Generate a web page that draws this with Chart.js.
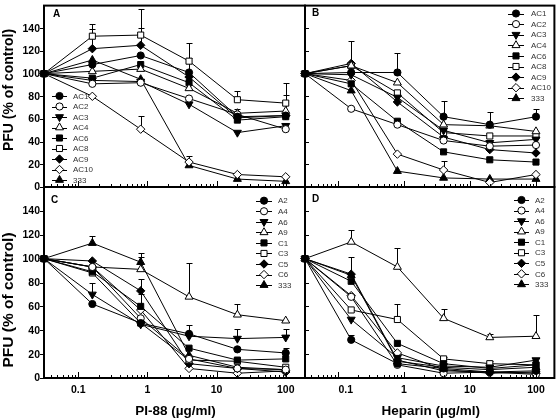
<!DOCTYPE html>
<html><head><meta charset="utf-8">
<script src="https://cdn.jsdelivr.net/npm/chart.js@4/dist/chart.umd.min.js"></script>
<style>
html,body{margin:0;padding:0;background:#fff;}
#wrap{position:relative;width:560px;height:420px;background:#fff;}
canvas{position:absolute;left:0;top:0;}
</style></head><body><div id="wrap">
<canvas id="cA" width="560" height="420"></canvas>
<canvas id="cB" width="560" height="420"></canvas>
<canvas id="cC" width="560" height="420"></canvas>
<canvas id="cD" width="560" height="420"></canvas>
</div>
<script>
// ---- data ----
const concentrations = [0.032, 0.16, 0.8, 4, 20, 100]; // first = control
const xTickValues = [0.1, 1, 10, 100];
const xTickLabels = ['0.1', '1', '10', '100'];
const yTickValues = [0, 20, 40, 60, 80, 100, 120, 140];

const namesAB = ['AC1', 'AC2', 'AC3', 'AC4', 'AC6', 'AC8', 'AC9', 'AC10', '333'];
const namesCD = ['A2', 'A4', 'A6', 'A9', 'C1', 'C3', 'C5', 'C6', '333'];

// Panel A (PI-88), rows follow namesAB
const pfuA = [
  [100, 108, 116, 101, 62, 63],
  [100, 91, 92, 78, 64, 51],
  [100, 94, 93, 73, 48, 54],
  [100, 102, 104, 87, 65, 67],
  [100, 96, 108, 92, 59, 62],
  [100, 133, 134, 111, 77, 74],
  [100, 122, 125, 97, 61, 63],
  [100, 80, 51, 22, 11, 9],
  [100, 112, 95, 19, 7, 5]
];
const errA = [
  [null, null, null, 13, 7, null],
  [null, null, null, null, null, null],
  [null, null, null, null, null, null],
  [null, null, null, null, null, null],
  [null, null, null, null, null, 19],
  [null, 11, 23, 16, 8, 18],
  [null, 17, 15, null, null, null],
  [null, null, 12, 5, null, null],
  [null, null, null, null, null, null]
];
// Panel B (heparin), rows follow namesAB
const pfuB = [
  [100, 101, 101, 62, 55, 62],
  [100, 69, 55, 41, 36, 37],
  [100, 99, 79, 50, 39, 42],
  [100, 107, 92, 55, 54, 49],
  [100, 91, 58, 31, 24, 22],
  [100, 107, 83, 48, 45, 45],
  [100, 109, 75, 44, 33, 30],
  [100, 94, 29, 15, 4, 11],
  [100, 85, 14, 8, 7, 7]
];
const errB = [
  [null, 7, 17, 14, null, 7],
  [null, null, null, null, null, null],
  [null, null, null, null, null, null],
  [null, null, null, null, 12, null],
  [null, null, null, null, null, null],
  [null, 22, null, null, null, null],
  [null, null, null, null, null, null],
  [null, null, null, 8, null, null],
  [null, null, null, null, null, null]
];
// Panel C (PI-88), rows follow namesCD
const pfuC = [
  [100, 62, 46, 37, 24, 21],
  [100, 93, 50, 16, 8, 7],
  [100, 70, 45, 35, 33, 34],
  [100, 93, 91, 68, 53, 48],
  [100, 89, 60, 25, 15, 16],
  [100, 88, 46, 15, 14, 9],
  [100, 98, 73, 12, 8, 5],
  [100, 93, 57, 8, 4, 6],
  [100, 113, 97, 19, 9, 7]
];
const errC = [
  [null, null, null, 7, null, 4],
  [null, null, null, null, null, null],
  [null, 10, null, null, 8, 7],
  [null, null, 10, 28, 9, null],
  [null, null, 10, null, null, null],
  [null, null, null, null, null, null],
  [null, null, 10, null, null, null],
  [null, null, null, null, null, null],
  [null, 6, 8, null, null, null]
];
// Panel D (heparin), rows follow namesCD
const pfuD = [
  [100, 32, 12, 8, 5, 6],
  [100, 68, 11, 4, 5, 3],
  [100, 49, 17, 10, 9, 15],
  [100, 114, 93, 50, 34, 35],
  [100, 81, 29, 12, 8, 11],
  [100, 57, 49, 16, 12, 11],
  [100, 87, 15, 6, 5, 4],
  [100, 69, 21, 7, 4, 5],
  [100, 86, 14, 9, 7, 9]
];
const errD = [
  [null, 4, null, null, null, null],
  [null, null, null, null, null, null],
  [null, null, null, null, null, null],
  [null, 10, 16, 8, 3, 18],
  [null, null, null, null, null, null],
  [null, null, 13, 2, 2, null],
  [null, 14, null, null, null, null],
  [null, null, null, null, null, null],
  [null, null, null, null, null, null]
];

// ---- styling ----
const FONT = "'Liberation Sans', Arial, Helvetica, sans-serif";
const markers = [
  {style: 'circle', rot: 0, r: 3.6, filled: true},
  {style: 'circle', rot: 0, r: 3.6, filled: false},
  {style: 'triangle', rot: 180, r: 4.6, filled: true},
  {style: 'triangle', rot: 0, r: 4.6, filled: false},
  {style: 'rect', rot: 0, r: 4.3, filled: true},
  {style: 'rect', rot: 0, r: 4.3, filled: false},
  {style: 'rectRot', rot: 0, r: 4.2, filled: true},
  {style: 'rectRot', rot: 0, r: 4.2, filled: false},
  {style: 'triangle', rot: 0, r: 4.6, filled: true}
];

function drawMarker(ctx, m, x, y) {
  const r = m.r;
  ctx.beginPath();
  if (m.style === 'circle') {
    ctx.arc(x, y, r, 0, 2 * Math.PI);
  } else if (m.style === 'triangle') {
    let rad = m.rot * Math.PI / 180;
    for (let k = 0; k < 3; k++) {
      const px = x + Math.sin(rad) * r, py = y - Math.cos(rad) * r;
      if (k) ctx.lineTo(px, py); else ctx.moveTo(px, py);
      rad += 2 * Math.PI / 3;
    }
  } else if (m.style === 'rect') {
    const s = Math.SQRT1_2 * r;
    ctx.rect(x - s, y - s, 2 * s, 2 * s);
  } else {
    ctx.moveTo(x - r, y); ctx.lineTo(x, y - r); ctx.lineTo(x + r, y); ctx.lineTo(x, y + r);
  }
  ctx.closePath();
  ctx.fillStyle = m.filled ? '#000' : '#fff';
  ctx.fill();
  ctx.lineWidth = 1; ctx.strokeStyle = '#000';
  ctx.stroke();
}

function decor(cfg) {
  return {
    id: 'decor',
    beforeDatasetsDraw(chart) {
      const ctx = chart.ctx, xs = chart.scales.x, ys = chart.scales.y;
      ctx.save();
      ctx.strokeStyle = '#000'; ctx.lineWidth = 1;
      chart.data.datasets.forEach(ds => {
        ds.data.forEach((p, j) => {
          const e = ds.errors[j];
          if (e == null) return;
          const x = Math.round(xs.getPixelForValue(p.x)) + 0.5;
          const y0 = ys.getPixelForValue(p.y);
          const y1 = Math.round(ys.getPixelForValue(p.y + e)) + 0.5;
          ctx.beginPath();
          ctx.moveTo(x, y0); ctx.lineTo(x, y1);
          ctx.moveTo(x - 3, y1); ctx.lineTo(x + 3, y1);
          ctx.stroke();
        });
      });
      ctx.restore();
    },
    afterDraw(chart) {
      const ctx = chart.ctx, xs = chart.scales.x, ys = chart.scales.y;
      const a = chart.chartArea;
      ctx.save();
      // frame
      ctx.strokeStyle = '#000'; ctx.lineWidth = 2;
      ctx.strokeRect(a.left, a.top, a.right - a.left, a.bottom - a.top);
      ctx.lineWidth = 1;
      // y ticks
      ctx.beginPath();
      yTickValues.forEach(v => {
        const y = Math.round(ys.getPixelForValue(v)) + 0.5;
        if (cfg.yLabels) { ctx.moveTo(a.left - 4, y); ctx.lineTo(a.left, y); }
        else { ctx.moveTo(a.left, y); ctx.lineTo(a.left + 4, y); }
      });
      // x log ticks (inward)
      for (let n = -2; n <= 2; n++) {
        for (let k = 1; k <= 9; k++) {
          const v = k * Math.pow(10, n);
          if (v < xs.min || v > xs.max) continue;
          const x = Math.round(xs.getPixelForValue(v)) + 0.5;
          const len = k === 1 ? 6 : 3;
          ctx.moveTo(x, a.bottom); ctx.lineTo(x, a.bottom - len);
        }
      }
      ctx.stroke();
      ctx.fillStyle = '#000';
      // y tick labels
      if (cfg.yLabels) {
        ctx.font = 'bold 10.5px ' + FONT;
        ctx.textAlign = 'right'; ctx.textBaseline = 'middle';
        yTickValues.forEach(v => ctx.fillText(String(v), a.left - 4, ys.getPixelForValue(v) + 0.5));
      }
      // x tick labels
      if (cfg.xLabels) {
        ctx.font = 'bold 10.5px ' + FONT;
        ctx.textAlign = 'center'; ctx.textBaseline = 'middle';
        xTickValues.forEach((v, i) => ctx.fillText(xTickLabels[i], xs.getPixelForValue(v) + cfg.xLabelShift[i], 390));
      }
      // axis titles
      if (cfg.xTitle) {
        ctx.font = 'bold 13.5px ' + FONT;
        ctx.textAlign = 'center'; ctx.textBaseline = 'middle';
        ctx.fillText(cfg.xTitle, (a.left + a.right) / 2 + 1, 411);
      }
      if (cfg.yTitle) {
        ctx.save();
        ctx.translate(9, cfg.yTitleY);
        ctx.rotate(-Math.PI / 2);
        ctx.font = 'bold ' + cfg.yTitleSize + 'px ' + FONT;
        ctx.textAlign = 'center'; ctx.textBaseline = 'middle';
        ctx.fillText(cfg.yTitle, 0, 0);
        ctx.restore();
      }
      // panel letter
      ctx.font = 'bold 10px ' + FONT;
      ctx.textAlign = 'left'; ctx.textBaseline = 'alphabetic';
      ctx.fillText(cfg.letter, cfg.letterPos[0], cfg.letterPos[1]);
      // legend
      const L = cfg.legend;
      chart.data.datasets.forEach((ds, i) => {
        const y = L.y0 + i * L.dy;
        ctx.beginPath();
        ctx.strokeStyle = '#000'; ctx.lineWidth = 1;
        ctx.moveTo(L.x0, Math.round(y) + 0.5); ctx.lineTo(L.x1, Math.round(y) + 0.5);
        ctx.stroke();
        drawMarker(ctx, markers[i], (L.x0 + L.x1) / 2, y);
        ctx.fillStyle = '#333';
        ctx.font = '8px ' + FONT;
        ctx.textAlign = 'left'; ctx.textBaseline = 'middle';
        ctx.fillText(ds.label, L.tx, y + 0.5);
      });
      ctx.restore();
    }
  };
}

function makePanel(id, cfg) {
  const datasets = cfg.names.map((name, i) => {
    const m = markers[i];
    return {
      label: name,
      data: concentrations.map((c, j) => ({x: c, y: cfg.values[i][j]})),
      errors: cfg.errors[i],
      borderColor: '#000', borderWidth: 1,
      pointStyle: m.style, pointRotation: m.rot, pointRadius: m.r, pointHoverRadius: m.r,
      pointBackgroundColor: m.filled ? '#000' : '#fff',
      pointBorderColor: '#000', pointBorderWidth: 1,
      fill: false, tension: 0, clip: false
    };
  });
  const area = cfg.area;
  return new Chart(document.getElementById(id), {
    type: 'line',
    data: {datasets},
    options: {
      responsive: false, animation: false, events: [],
      layout: {padding: {left: area.left, top: area.top, right: 560 - area.right, bottom: 420 - area.bottom}},
      plugins: {legend: {display: false}, tooltip: {enabled: false}, title: {display: false}},
      scales: {
        x: {type: 'logarithmic', min: 0.032, max: 190, display: false},
        y: {type: 'linear', min: 0, max: 160, display: false}
      }
    },
    plugins: [decor(cfg)]
  });
}

makePanel('cA', {
  names: namesAB, values: pfuA, errors: errA,
  area: {left: 44, top: 1, right: 305, bottom: 187},
  yLabels: true, xLabels: false, yTitle: 'PFU (% of control)', yTitleY: 90, yTitleSize: 14,
  letter: 'A', letterPos: [53, 17],
  legend: {x0: 52, x1: 67, tx: 73, y0: 96, dy: 10.5}
});
makePanel('cB', {
  names: namesAB, values: pfuB, errors: errB,
  area: {left: 305, top: 1, right: 558, bottom: 187},
  yLabels: false, xLabels: false,
  letter: 'B', letterPos: [312, 16],
  legend: {x0: 508, x1: 524, tx: 531, y0: 13.5, dy: 10.6}
});
makePanel('cC', {
  names: namesCD, values: pfuC, errors: errC,
  area: {left: 44, top: 187, right: 305, bottom: 378},
  yLabels: true, xLabels: true, xLabelShift: [0, 0, 0, 0],
  yTitle: 'PFU (% of control)', yTitleY: 300, yTitleSize: 15.5, xTitle: 'PI-88 (\u00b5g/ml)',
  letter: 'C', letterPos: [51, 202.5],
  legend: {x0: 256, x1: 272, tx: 278, y0: 200.7, dy: 10.55}
});
makePanel('cD', {
  names: namesCD, values: pfuD, errors: errD,
  area: {left: 305, top: 187, right: 558, bottom: 378},
  yLabels: false, xLabels: true, xLabelShift: [8, 0, 0, 0],
  xTitle: 'Heparin (\u00b5g/ml)',
  letter: 'D', letterPos: [312, 202],
  legend: {x0: 514, x1: 529, tx: 535, y0: 200, dy: 10.55}
});
</script>
</body></html>
